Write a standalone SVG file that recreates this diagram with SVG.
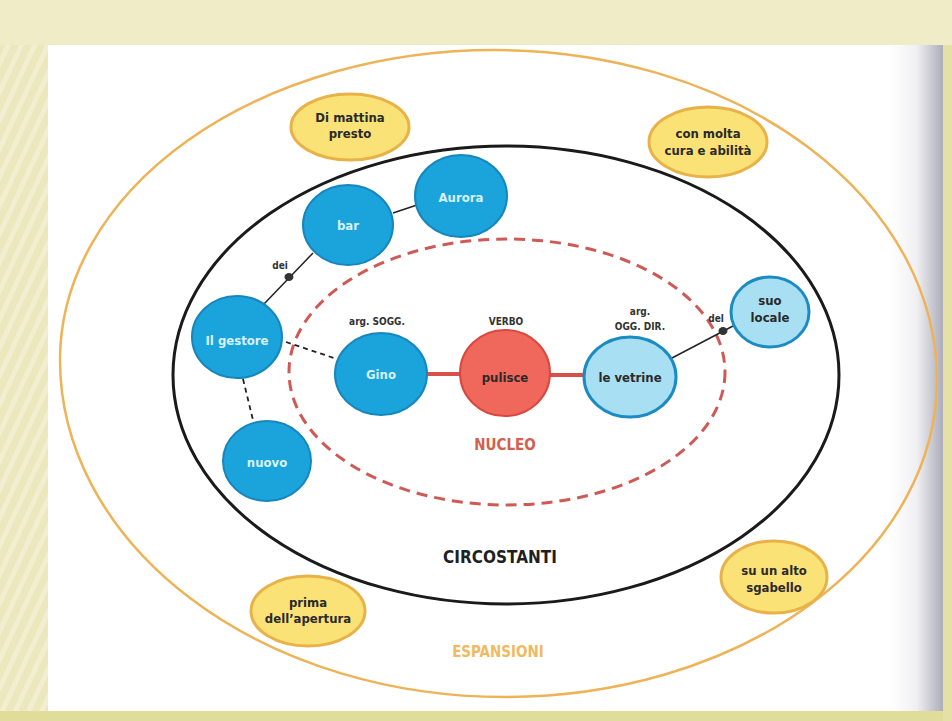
<svg xmlns="http://www.w3.org/2000/svg" width="952" height="721" viewBox="0 0 952 721">
<defs>
<pattern id="stripes" width="12" height="12" patternUnits="userSpaceOnUse" patternTransform="rotate(25)">
<rect width="12" height="12" fill="#ece7bd"/>
<rect width="5" height="12" fill="#f2eecf"/>
</pattern>
<linearGradient id="shadow" x1="0" y1="0" x2="1" y2="0">
<stop offset="0" stop-color="#ffffff"/>
<stop offset="0.5" stop-color="#f0f0f3"/>
<stop offset="1" stop-color="#adadbb"/>
</linearGradient>
<style>
.txt{font-family:"Liberation Sans Narrow","DejaVu Sans Condensed","Liberation Sans",sans-serif;font-weight:bold;text-anchor:middle}
.ylw{fill:#fbe276;stroke:#e9b249;stroke-width:3}
.blu{fill:#1ba4dc;stroke:#1786bd;stroke-width:2}
.lblu{fill:#a9dff3;stroke:#1a8cc3;stroke-width:3}
.red{fill:#f0675c;stroke:#d9473e;stroke-width:2}
.wt{fill:#d8f2fb;font-size:13px}
.dk{fill:#2a2a2a;font-size:13px}
.sm{fill:#333;font-size:10px}
.ln{stroke:#222;stroke-width:1.5;fill:none}
.dash{stroke:#222;stroke-width:1.8;stroke-dasharray:5 4;fill:none}
.core{stroke:#d9504a;stroke-width:4;fill:none}
</style>
</defs>
<!-- background -->
<rect width="952" height="721" fill="#f1ecc8"/>
<rect x="0" y="45" width="48" height="676" fill="url(#stripes)"/>
<rect x="0" y="711" width="952" height="10" fill="#e0dc9a"/>
<rect x="943" y="45" width="9" height="676" fill="#e4e0a6"/>
<rect x="48" y="45" width="895" height="666" fill="#ffffff"/>
<rect x="890" y="45" width="53" height="666" fill="url(#shadow)"/>

<g id="rings">
<path id="espansioni-ring" d="M 495 50 A 442 330 0 0 1 937 380 A 432 317 0 0 1 505 697 A 445 337 0 0 1 60 360 A 435 310 0 0 1 495 50 Z" fill="none" stroke="#eeb357" stroke-width="2.5"/>
<ellipse id="circostanti-ring" cx="506" cy="375" rx="333" ry="229" fill="none" stroke="#1a1a1a" stroke-width="3"/>
<ellipse id="nucleo-ring" cx="507" cy="372" rx="218" ry="133" fill="none" stroke="#cf5a55" stroke-width="3" stroke-dasharray="11 7"/>
</g>

<g id="connectors">
<line class="ln" x1="393" y1="213" x2="417" y2="205"/>
<line class="ln" x1="313" y1="253" x2="264" y2="304"/>
<ellipse cx="289" cy="277" rx="4.5" ry="4" fill="#333"/>
<line class="dash" x1="286" y1="342" x2="337" y2="359"/>
<line class="dash" x1="243" y1="379" x2="253" y2="420"/>
<line class="core" x1="427" y1="374" x2="461" y2="374"/>
<line class="core" x1="549" y1="375" x2="584" y2="375"/>
<line class="ln" x1="672" y1="358" x2="733" y2="326"/>
<ellipse cx="723" cy="331" rx="4.5" ry="4" fill="#333"/>
<text class="txt sm" x="280" y="269">dei</text>
<text class="txt sm" x="716" y="322">del</text>
</g>

<g id="node-di-mattina">
<ellipse class="ylw" cx="350" cy="127" rx="59" ry="33"/>
<text class="txt dk" x="350" y="122">Di mattina</text>
<text class="txt dk" x="350" y="138">presto</text>
</g>
<g id="node-con-molta">
<ellipse class="ylw" cx="708" cy="142" rx="59" ry="35"/>
<text class="txt dk" x="708" y="138">con molta</text>
<text class="txt dk" x="708" y="155">cura e abilità</text>
</g>
<g id="node-prima">
<ellipse class="ylw" cx="308" cy="611" rx="57" ry="35"/>
<text class="txt dk" x="308" y="607">prima</text>
<text class="txt dk" x="308" y="623">dell’apertura</text>
</g>
<g id="node-sgabello">
<ellipse class="ylw" cx="774" cy="577" rx="53" ry="36"/>
<text class="txt dk" x="774" y="575">su un alto</text>
<text class="txt dk" x="774" y="592">sgabello</text>
</g>

<g id="node-bar">
<ellipse class="blu" cx="348" cy="225" rx="45" ry="40"/>
<text class="txt wt" x="348" y="230">bar</text>
</g>
<g id="node-aurora">
<ellipse class="blu" cx="461" cy="196" rx="46" ry="41"/>
<text class="txt wt" x="461" y="202">Aurora</text>
</g>
<g id="node-gestore">
<ellipse class="blu" cx="237" cy="337" rx="45" ry="41"/>
<text class="txt wt" x="237" y="345">Il gestore</text>
</g>
<g id="node-nuovo">
<ellipse class="blu" cx="267" cy="461" rx="44" ry="40"/>
<text class="txt wt" x="267" y="467">nuovo</text>
</g>
<g id="node-gino">
<text class="txt sm" x="377" y="325">arg. SOGG.</text>
<ellipse class="blu" cx="381" cy="374" rx="46" ry="41"/>
<text class="txt wt" x="381" y="379">Gino</text>
</g>
<g id="node-pulisce">
<text class="txt sm" x="506" y="325">VERBO</text>
<ellipse class="red" cx="505" cy="373" rx="45" ry="43"/>
<text class="txt dk" x="505" y="382">pulisce</text>
</g>
<g id="node-vetrine">
<text class="txt sm" x="640" y="315">arg.</text>
<text class="txt sm" x="640" y="330">OGG. DIR.</text>
<ellipse class="lblu" cx="630" cy="377" rx="46" ry="40"/>
<text class="txt dk" x="630" y="382">le vetrine</text>
</g>
<g id="node-suo-locale">
<ellipse class="lblu" cx="770" cy="312" rx="39" ry="35"/>
<text class="txt dk" x="770" y="305">suo</text>
<text class="txt dk" x="770" y="322">locale</text>
</g>

<g id="labels">
<text class="txt" x="505" y="450" font-size="15" fill="#d2604c">NUCLEO</text>
<text class="txt" x="500" y="563" font-size="17" fill="#1f1f1f">CIRCOSTANTI</text>
<text class="txt" x="498" y="657" font-size="15" fill="#f0ba62">ESPANSIONI</text>
</g>
</svg>
